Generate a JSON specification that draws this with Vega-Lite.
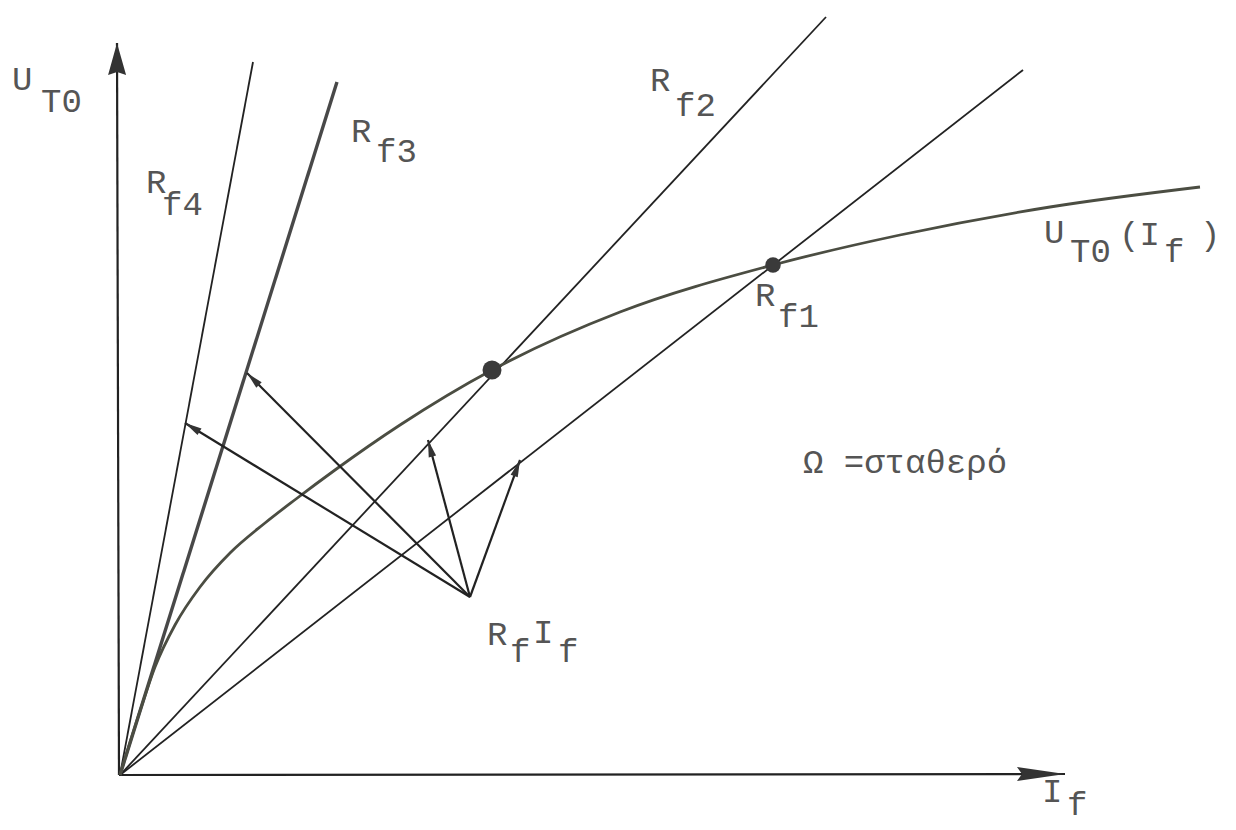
{
  "$schema": "https://vega.github.io/schema/vega-lite/v6.json",
  "width": 1236,
  "height": 830,
  "autosize": {"type": "fit", "contains": "padding"},
  "padding": 0,
  "background": "white",
  "config": {"view": {"stroke": null}},
  "datasets": {
    "axes": [
      {"axis": "UT0", "x": -0.03, "y": 7.32, "xs": -0.01, "ys": 0},
      {"axis": "If", "x": 9.45, "y": 0.01, "xs": -0.01, "ys": 0}
    ],
    "rays": [
      {"line": "Rf4", "x": 1.33, "y": 7.13, "xs": 0, "ys": 0},
      {"line": "Rf3", "x": 2.17, "y": 6.93, "xs": 0, "ys": 0},
      {"line": "Rf2", "x": 7.06, "y": 7.58, "xs": 0, "ys": 0},
      {"line": "Rf1", "x": 9.03, "y": 7.05, "xs": 0, "ys": 0}
    ],
    "curve": [
      {"x": 0.0, "y": 0.0},
      {"x": 0.2, "y": 0.64},
      {"x": 0.35, "y": 1.08},
      {"x": 0.55, "y": 1.5},
      {"x": 0.8, "y": 1.88},
      {"x": 1.1, "y": 2.22},
      {"x": 1.45, "y": 2.52},
      {"x": 1.76, "y": 2.76},
      {"x": 2.15, "y": 3.05},
      {"x": 2.8, "y": 3.5},
      {"x": 3.72, "y": 4.05},
      {"x": 5.0, "y": 4.63},
      {"x": 6.53, "y": 5.1},
      {"x": 7.8, "y": 5.4},
      {"x": 9.3, "y": 5.68},
      {"x": 10.8, "y": 5.88}
    ],
    "operating": [
      {"rf": "Rf2", "x": 3.72, "y": 4.05},
      {"rf": "Rf1", "x": 6.53, "y": 5.1}
    ],
    "arrows": [
      {"x": 0.65, "y": 3.52, "xs": 3.5, "ys": 1.78},
      {"x": 1.27, "y": 4.02, "xs": 3.5, "ys": 1.78},
      {"x": 3.08, "y": 3.35, "xs": 3.5, "ys": 1.78},
      {"x": 4.0, "y": 3.15, "xs": 3.5, "ys": 1.78}
    ],
    "labels": [
      {"x": -1.08, "y": 6.95, "t": "U"},
      {"x": -0.79, "y": 6.73, "t": "T0"},
      {"x": 0.26, "y": 5.92, "t": "R"},
      {"x": 0.42, "y": 5.7, "t": "f4"},
      {"x": 2.31, "y": 6.43, "t": "R"},
      {"x": 2.56, "y": 6.23, "t": "f3"},
      {"x": 5.3, "y": 6.94, "t": "R"},
      {"x": 5.55, "y": 6.69, "t": "f2"},
      {"x": 9.24, "y": 5.42, "t": "U"},
      {"x": 9.5, "y": 5.23, "t": "T0"},
      {"x": 9.99, "y": 5.4, "t": "(I"},
      {"x": 10.44, "y": 5.23, "t": "f"},
      {"x": 10.8, "y": 5.4, "t": ")"},
      {"x": 6.35, "y": 4.79, "t": "R"},
      {"x": 6.58, "y": 4.58, "t": "f1"},
      {"x": 3.67, "y": 1.4, "t": "R"},
      {"x": 3.9, "y": 1.23, "t": "f"},
      {"x": 4.13, "y": 1.42, "t": "I"},
      {"x": 4.38, "y": 1.23, "t": "f"},
      {"x": 6.83, "y": 3.12, "t": "Ω =σταθερό"},
      {"x": 9.22, "y": -0.17, "t": "I"},
      {"x": 9.47, "y": -0.3, "t": "f"}
    ]
  },
  "encoding": {
    "x": {"field": "x", "type": "quantitative", "scale": {"domain": [-1.2, 11.16], "nice": false, "zero": false}, "axis": null},
    "y": {"field": "y", "type": "quantitative", "scale": {"domain": [-0.55, 7.75], "nice": false, "zero": false}, "axis": null}
  },
  "layer": [
    {
      "data": {"name": "axes"},
      "mark": {"type": "rule", "color": "#222222", "strokeWidth": 2.2},
      "encoding": {
        "x2": {"field": "xs"},
        "y2": {"field": "ys"}
      }
    },
    {
      "data": {"name": "axes"},
      "transform": [
        {"filter": "datum.axis === 'UT0'"},
        {"calculate": "atan2(datum.x - datum.xs, datum.y - datum.ys) * 180 / PI", "as": "heading"}
      ],
      "mark": {"type": "point", "filled": true, "opacity": 1, "color": "#333333", "size": 400, "shape": "M0,0L-0.9,3.2L0,2.9L0.9,3.2Z"},
      "encoding": {"angle": {"field": "heading", "type": "quantitative", "scale": null}}
    },
    {
      "data": {"name": "axes"},
      "transform": [
        {"filter": "datum.axis === 'If'"},
        {"calculate": "atan2(datum.x - datum.xs, datum.y - datum.ys) * 180 / PI", "as": "heading"}
      ],
      "mark": {"type": "point", "filled": true, "opacity": 1, "color": "#333333", "size": 400, "shape": "M0,0L-0.7,4.8L0,4.3L0.7,4.8Z"},
      "encoding": {"angle": {"field": "heading", "type": "quantitative", "scale": null}}
    },
    {
      "data": {"name": "rays"},
      "transform": [{"filter": "datum.line !== 'Rf3'"}],
      "mark": {"type": "rule", "color": "#222222", "strokeWidth": 1.8},
      "encoding": {
        "x2": {"field": "xs"},
        "y2": {"field": "ys"}
      }
    },
    {
      "data": {"name": "rays"},
      "transform": [{"filter": "datum.line === 'Rf3'"}],
      "mark": {"type": "rule", "color": "#484848", "strokeWidth": 3.4},
      "encoding": {
        "x2": {"field": "xs"},
        "y2": {"field": "ys"}
      }
    },
    {
      "data": {"name": "curve"},
      "mark": {"type": "line", "color": "#4b4d42", "strokeWidth": 2.8, "interpolate": "monotone"},
      "encoding": {}
    },
    {
      "data": {"name": "arrows"},
      "mark": {"type": "rule", "color": "#222222", "strokeWidth": 2.2},
      "encoding": {
        "x2": {"field": "xs"},
        "y2": {"field": "ys"}
      }
    },
    {
      "data": {"name": "arrows"},
      "transform": [
        {"calculate": "atan2(datum.x - datum.xs, datum.y - datum.ys) * 180 / PI", "as": "heading"}
      ],
      "mark": {"type": "point", "filled": true, "opacity": 1, "color": "#333333", "size": 400, "shape": "M0,0L-0.38,1.7L0.38,1.7Z"},
      "encoding": {"angle": {"field": "heading", "type": "quantitative", "scale": null}}
    },
    {
      "data": {"name": "operating"},
      "mark": {"type": "point", "filled": true, "opacity": 1, "color": "#3a3a3a", "shape": "circle"},
      "encoding": {
        "size": {"field": "rf", "type": "nominal", "scale": {"domain": ["Rf2", "Rf1"], "range": [360, 240]}, "legend": null}
      }
    },
    {
      "data": {"name": "labels"},
      "mark": {"type": "text", "align": "left", "baseline": "middle", "font": "Liberation Mono", "fontSize": 34, "color": "#555555"},
      "encoding": {"text": {"field": "t", "type": "nominal"}}
    }
  ]
}
